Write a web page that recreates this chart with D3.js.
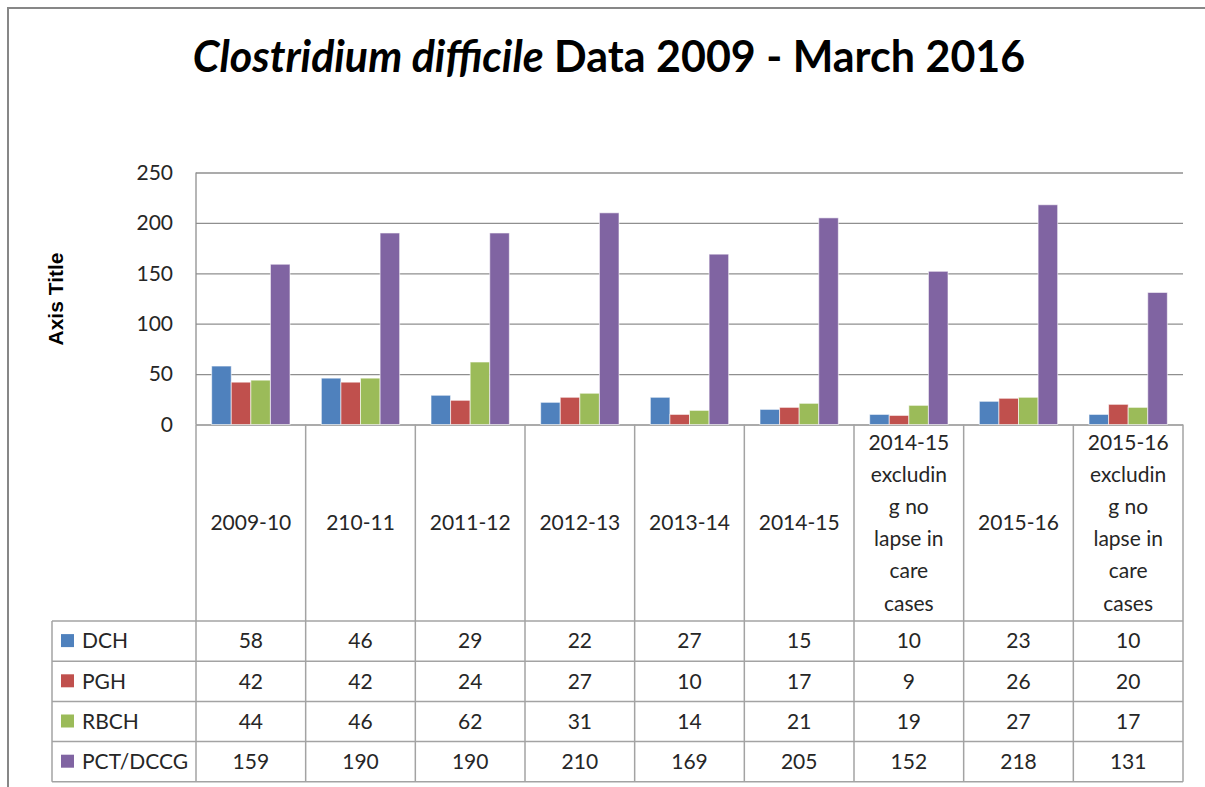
<!DOCTYPE html>
<html>
<head>
<meta charset="utf-8">
<script src="https://cdn.jsdelivr.net/npm/d3@7"></script>
<style>
  body { margin: 0; background: #fff; overflow: hidden; }
  svg { display: block; font-family: Lato, "Open Sans", sans-serif; }
</style>
</head>
<body>
<div id="chart"></div>
<script>
// categories (line breaks follow the wrapping in the original data table)
const categories = [
  "2009-10", "210-11", "2011-12", "2012-13", "2013-14", "2014-15",
  "2014-15\nexcludin\ng no\nlapse in\ncare\ncases",
  "2015-16",
  "2015-16\nexcludin\ng no\nlapse in\ncare\ncases"
];
const seriesNames = ["DCH", "PGH", "RBCH", "PCT/DCCG"];
const seriesColors = ["#4F81BD", "#C0504D", "#9BBB59", "#8064A2"];
const dch = [58, 46, 29, 22, 27, 15, 10, 23, 10];
const pgh = [42, 42, 24, 27, 10, 17, 9, 26, 20];
const rbch = [44, 46, 62, 31, 14, 21, 19, 27, 17];
const pct = [159, 190, 190, 210, 169, 205, 152, 218, 131];
const yTicks = [0, 50, 100, 150, 200, 250];

const series = [dch, pgh, rbch, pct];

const width = 1205, height = 787;
const plot = { left: 196, right: 1183, top: 172.5, bottom: 424.5 };
const table = { legendLeft: 52, headBottom: 621, rowH: 40.2 };
const fontSize = 21;
const textColor = "#262626";
const lineColor = "#a3a3a3";

const svg = d3.select("#chart")
  .append("svg")
  .attr("width", width)
  .attr("height", height);

// outer chart border (only left and top edges fall inside the picture)
svg.append("path")
  .attr("d", `M8,${height + 10}V8H${width + 10}`)
  .attr("fill", "none")
  .attr("stroke", "#878787")
  .attr("stroke-width", 2);

// title
const title = svg.append("text")
  .attr("x", 609).attr("y", 72)
  .attr("text-anchor", "middle")
  .attr("font-size", 43)
  .attr("font-weight", "bold")
  .attr("fill", "#000");
title.append("tspan").attr("font-style", "italic").text("Clostridium difficile");
title.append("tspan").text(" Data 2009 - March 2016");

const x = d3.scaleBand()
  .domain(categories)
  .range([plot.left, plot.right]);

const x1 = d3.scaleBand()
  .domain(seriesNames)
  .range([0, x.bandwidth()])
  .paddingOuter(0.8);

const y = d3.scaleLinear()
  .domain([0, 250])
  .range([plot.bottom, plot.top]);

// gridlines + y axis labels
const yAxis = svg.append("g")
  .attr("transform", `translate(${plot.left},0)`)
  .call(d3.axisLeft(y).tickValues(yTicks).tickSize(-(plot.right - plot.left)).tickPadding(23));
yAxis.select(".domain").remove();
yAxis.selectAll(".tick line").attr("stroke", "#8f8f8f").attr("stroke-width", 1.3);
yAxis.selectAll(".tick text")
  .attr("font-size", fontSize)
  .attr("font-family", "Lato, sans-serif")
  .attr("fill", textColor);

// value axis line
svg.append("line")
  .attr("x1", plot.left).attr("x2", plot.left)
  .attr("y1", plot.top).attr("y2", plot.bottom)
  .attr("stroke", "#8f8f8f").attr("stroke-width", 1.3);

// axis title
svg.append("text")
  .attr("transform", "translate(63,299) rotate(-90)")
  .attr("text-anchor", "middle")
  .attr("font-family", "'Liberation Sans', Arial, sans-serif")
  .attr("font-size", 21)
  .attr("font-weight", "bold")
  .attr("fill", "#000")
  .text("Axis Title");

// bars
series.forEach((vals, si) => {
  svg.append("g")
    .selectAll("rect")
    .data(vals)
    .join("rect")
    .attr("x", (d, i) => x(categories[i]) + x1(seriesNames[si]))
    .attr("y", d => y(d))
    .attr("width", x1.bandwidth())
    .attr("height", d => y(0) - y(d))
    .attr("fill", seriesColors[si])
    .attr("stroke", "#fff")
    .attr("stroke-opacity", 0.6)
    .attr("stroke-width", 1);
});

// data table
const tableBottom = table.headBottom + table.rowH * seriesNames.length;
const tg = svg.append("g").attr("stroke", lineColor).attr("stroke-width", 1.5);

// vertical lines of the category columns
const colEdges = categories.map(c => x(c)).concat([plot.right]);
tg.selectAll("line.v")
  .data(colEdges)
  .join("line")
  .attr("class", "v")
  .attr("x1", d => d).attr("x2", d => d)
  .attr("y1", plot.bottom).attr("y2", tableBottom);

// horizontal row lines
const rowEdges = d3.range(seriesNames.length + 1).map(i => table.headBottom + i * table.rowH);
tg.selectAll("line.h")
  .data(rowEdges)
  .join("line")
  .attr("class", "h")
  .attr("x1", table.legendLeft).attr("x2", plot.right)
  .attr("y1", d => d).attr("y2", d => d);

tg.append("line")
  .attr("x1", table.legendLeft).attr("x2", table.legendLeft)
  .attr("y1", table.headBottom).attr("y2", tableBottom);

// category header labels
const headMid = (plot.bottom + table.headBottom) / 2;
const lineH = 32.2;
categories.forEach(c => {
  const lines = c.split("\n");
  const t = svg.append("text")
    .attr("text-anchor", "middle")
    .attr("font-size", fontSize)
    .attr("fill", textColor);
  lines.forEach((ln, li) => {
    t.append("tspan")
      .attr("x", x(c) + x.bandwidth() / 2)
      .attr("y", headMid + (li - (lines.length - 1) / 2) * lineH)
      .attr("dy", "0.35em")
      .text(ln);
  });
});

// rows: legend key + values
seriesNames.forEach((name, si) => {
  const cy = table.headBottom + si * table.rowH + table.rowH / 2;
  svg.append("rect")
    .attr("x", 61).attr("y", cy - 7)
    .attr("width", 13).attr("height", 13)
    .attr("fill", seriesColors[si]);
  svg.append("text")
    .attr("x", 82).attr("y", cy)
    .attr("dy", "0.35em")
    .attr("font-size", fontSize)
    .attr("fill", textColor)
    .text(name);
  svg.append("g")
    .selectAll("text")
    .data(series[si])
    .join("text")
    .attr("x", (d, i) => x(categories[i]) + x.bandwidth() / 2)
    .attr("y", cy)
    .attr("dy", "0.35em")
    .attr("text-anchor", "middle")
    .attr("font-size", fontSize)
    .attr("fill", textColor)
    .text(d => d);
});
</script>
</body>
</html>
